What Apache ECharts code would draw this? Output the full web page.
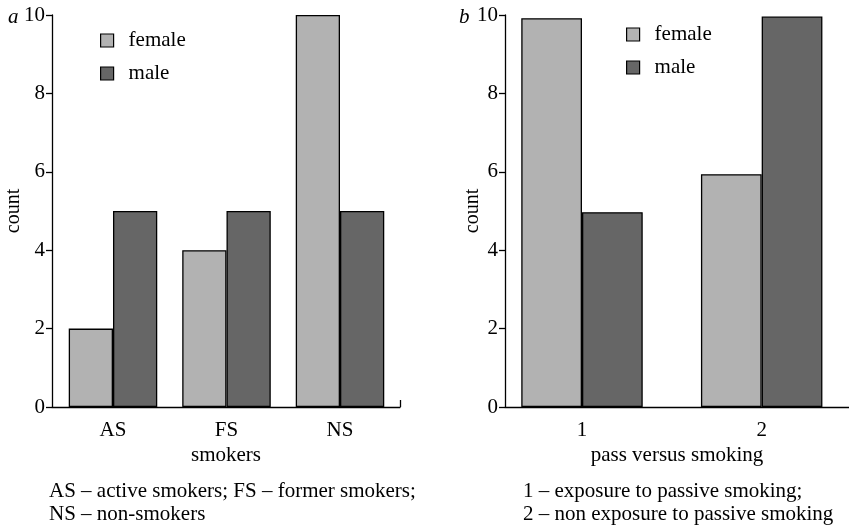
<!DOCTYPE html>
<html><head><meta charset="utf-8">
<script src="https://cdn.jsdelivr.net/npm/echarts@6/dist/echarts.min.js"></script>
<style>html,body{margin:0;padding:0;background:#fff}#c{width:849px;height:526px}</style>
</head><body><div id="c"></div>
<script>
// Panel a
const catsA = ['AS', 'FS', 'NS'];
const femaleA = [2, 4, 10];
const maleA = [5, 5, 5];
// Panel b
const catsB = ['1', '2'];
const femaleB = [9.92, 5.94];
const maleB = [4.97, 9.96];
const yTicks = [0, 2, 4, 6, 8, 10];

const FONT = 'Liberation Serif';
const C_F = '#b2b2b2', C_M = '#666666';
const chart = echarts.init(document.getElementById('c'), null, {renderer: 'canvas'});

function xAx(gi, cats, min, max, name, endTick) {
  return {
    type: 'value', gridIndex: gi, min: min, max: max,
    axisLine: {show: true, onZero: false, lineStyle: {color: '#000', width: 1.3}},
    axisTick: endTick ? {show: true, inside: true, length: 7, customValues: [max], lineStyle: {color: '#000', width: 1.3}} : {show: false},
    splitLine: {show: false},
    axisLabel: {customValues: cats.map((c, i) => i + 1), formatter: v => cats[Math.round(v) - 1],
      color: '#000', fontFamily: FONT, fontSize: 21, margin: 13},
    name: name, nameLocation: 'middle', nameGap: 38, nameMoveOverlap: false,
    nameTextStyle: {color: '#000', fontFamily: FONT, fontSize: 21}
  };
}
function yAx(gi, gap) {
  return {
    type: 'value', gridIndex: gi, min: 0, max: 10, interval: 2,
    axisLine: {show: true, lineStyle: {color: '#000', width: 1.3}},
    axisTick: {show: true, inside: false, length: 6, lineStyle: {color: '#000', width: 1.3}},
    splitLine: {show: false},
    axisLabel: {color: '#000', fontFamily: FONT, fontSize: 21, margin: 7},
    name: 'count', nameLocation: 'middle', nameGap: gap, nameMoveOverlap: false,
    nameTextStyle: {color: '#000', fontFamily: FONT, fontSize: 20}
  };
}
function bar(name, gi, cats, vals, color, gap) {
  return {
    type: 'bar', name: name, xAxisIndex: gi, yAxisIndex: gi,
    data: cats.map((c, i) => [i + 1, vals[i]]),
    barGap: '0%', barCategoryGap: gap,
    itemStyle: {color: color, borderColor: '#000', borderWidth: 1.3},
    emphasis: {disabled: true}, animation: false
  };
}
function legend(left, top) {
  return {
    orient: 'vertical', left: left, top: top, padding: 0, itemWidth: 13, itemHeight: 13, itemGap: 12,
    icon: 'rect', data: ['female', 'male'],
    textStyle: {color: '#000', fontFamily: FONT, fontSize: 21, padding: [0, 0, 0, 10]},
    itemStyle: {borderColor: '#000', borderWidth: 1.2}
  };
}
chart.setOption({
  animation: false,
  grid: [
    {left: 52, top: 15, width: 348, height: 392},
    {left: 505, top: 15, width: 344, height: 392}
  ],
  xAxis: [
    xAx(0, catsA, 0.4626, 3.5286, 'smokers', true),
    xAx(1, catsB, 0.5715, 2.486, 'pass versus smoking', false)
  ],
  yAxis: [yAx(0, 28), yAx(1, 22)],
  legend: [legend(100, 30), legend(626, 24)],
  title: [
    {text: 'a', left: 3, top: 2, textStyle: {fontFamily: FONT, fontStyle: 'italic', fontWeight: 'normal', fontSize: 21, color: '#000'}},
    {text: 'b', left: 454, top: 2, textStyle: {fontFamily: FONT, fontStyle: 'italic', fontWeight: 'normal', fontSize: 21, color: '#000'}},
    {text: 'AS \u2013 active smokers; FS \u2013 former smokers;\nNS \u2013 non-smokers', left: 44, top: 475,
      textStyle: {fontFamily: FONT, fontWeight: 'normal', fontSize: 21, color: '#000', lineHeight: 23}},
    {text: '1 \u2013 exposure to passive smoking;\n2 \u2013 non exposure to passive smoking', left: 518, top: 475,
      textStyle: {fontFamily: FONT, fontWeight: 'normal', fontSize: 21, color: '#000', lineHeight: 23}}
  ],
  series: [
    bar('female', 0, catsA, femaleA, C_F, '22%'),
    bar('male', 0, catsA, maleA, C_M, '22%'),
    bar('female', 1, catsB, femaleB, C_F, '32.4%'),
    bar('male', 1, catsB, maleB, C_M, '32.4%')
  ]
});
</script></body></html>
